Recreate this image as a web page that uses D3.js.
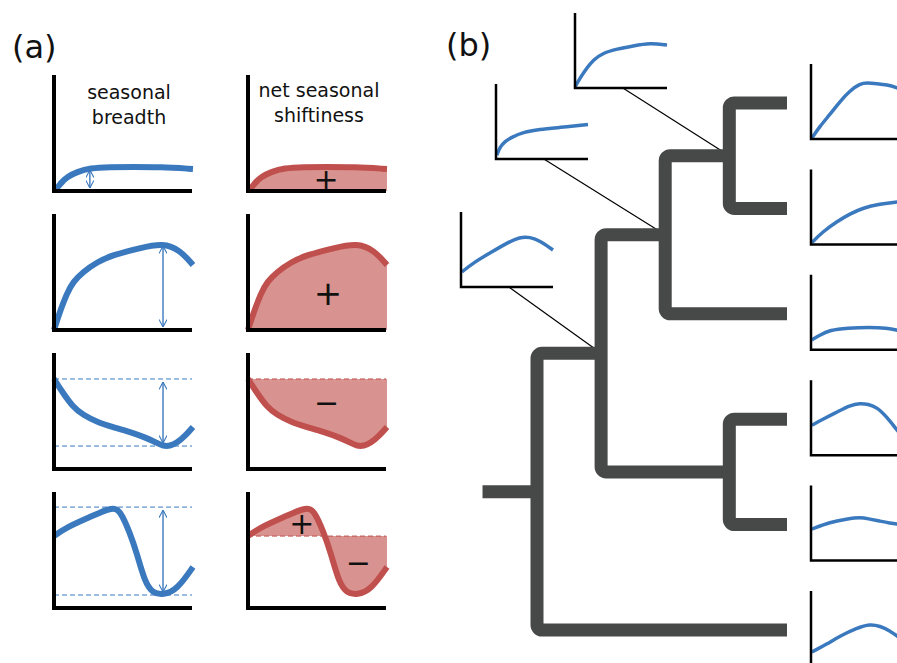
<!DOCTYPE html>
<html>
<head>
<meta charset="utf-8">
<script src="https://cdn.jsdelivr.net/npm/d3@7"></script>
<style>
  body { margin: 0; background: #fff; }
  svg { display: block; font-family: "DejaVu Sans", Verdana, sans-serif; }
</style>
</head>
<body>
<svg id="fig" width="897" height="663"></svg>
<script>
// ---- panel (a): schematic seasonal curves, [x % of season, y % of axis height]
var curveRise  = [[0,0],[2.2,2.6],[5.8,7.8],[9.4,12.1],[16.7,16.4],[26,19.8],[40.6,20.7],[57,20.7],[76.8,20.7],[100.7,19]];
var curveHump  = [[0,0],[2.9,11.2],[9.4,31.9],[13.8,41.4],[21,50],[31.2,58.6],[42.8,64.7],[62.3,70.7],[79,75],[91.3,69],[100.7,56]];
var curveDip   = [[0,77.6],[6.5,65.5],[13.8,53.4],[21,46.6],[31.2,40.5],[42.8,36.2],[55,31.9],[67.4,26.7],[74.6,22.4],[79,19.8],[84,19.8],[89,22.4],[95,28.4],[100.7,36.2]];
var curveCrash = [[0,62],[9.4,69.8],[26,78.4],[42,87],[47.8,84.5],[55,64.7],[60,47.4],[66,21.6],[71.7,12.9],[79,11.2],[89,15.5],[100.7,35.3]];
var breadthArrowAt = [26, 79, 79, 79];
var shiftSigns = [[["+",56.5,10.3]], [["+",58,32]], [["\u2212",57,57.8]], [["+",39,73],["\u2212",80,39.7]]];
var columnTitles = [["seasonal","breadth"], ["net seasonal","shiftiness"]];

// ---- panel (b): phylogeny ((((A,B),C),(D,E)),F) with branch lengths
var nodeIds     = ["root","n1","n2","n3","n4","A","B","C","D","E","F"];
var nodeParents = ["","root","n1","n2","n1","n3","n3","n2","n4","n4","root"];
var branchLen   = [0, 1, 1, 1, 2, 0.9, 0.9, 1.9, 0.9, 0.9, 3.9];
var rootStub = 0.85;

// inset curves on the tree, same units as above
var insetN3 = [[0,1.3],[5.4,13.3],[13,26.7],[19.6,37.3],[30.4,46.7],[45.7,52],[63,56],[81.5,60],[100,57.3]];
var insetN2 = [[1,5.3],[4.3,15.8],[9.7,23.7],[17.2,29],[29,35.5],[47.3,39.5],[68.8,42],[100,46]];
var insetN1 = [[1,20],[13,32],[31.5,45.3],[50,58.7],[64,66.7],[75,66.7],[86,61.3],[100,49.3]];
var insetA  = [[1,1.3],[9.8,17.1],[20.7,32.9],[31.5,50],[42.4,64.5],[53.3,73.7],[60.9,75],[71.7,73.7],[82.6,72.4],[93.5,68.4],[100,65]];
var insetB  = [[1,2.6],[13,17.1],[28,30.3],[42.4,40.8],[56.5,48.7],[75,53.9],[93.5,56.6],[100,57]];
var insetC  = [[1,13.2],[9.8,19.7],[20.7,26.3],[39,29],[64,30.3],[82.6,29],[93.5,26.3],[100,24]];
var insetD  = [[1,40],[13,48],[28,57.3],[42.4,66.7],[53.3,69.3],[62,68],[71.7,64],[82.6,50.7],[93.5,33.3],[100,24]];
var insetE  = [[1,42],[20.7,51.3],[39,55.3],[53.3,57.9],[64,55.3],[75,52.6],[86,50],[93.5,48.7],[100,48]];
var insetF  = [[1,18.7],[17.4,29.3],[31.5,40],[50,50.7],[64,56],[75,53.3],[86,46.7],[93.5,40],[100,34]];

var blue = "#3b79be", red = "#c0504d", redFill = "#d8928f", treeGrey = "#474848";
var smooth = d3.curveBasis;

var svg = d3.select("#fig");

svg.append("defs").append("marker")
    .attr("id", "arrowhead")
    .attr("viewBox", "0 -5 10 10")
    .attr("refX", 9.5).attr("refY", 0)
    .attr("markerUnits", "userSpaceOnUse")
    .attr("markerWidth", 8).attr("markerHeight", 8)
    .attr("orient", "auto-start-reverse")
  .append("path")
    .attr("d", "M0,-5L9.5,0L0,5")
    .attr("fill", "none")
    .attr("stroke", blue)
    .attr("stroke-width", 1.4);

// panel letters
svg.append("text").attr("x", 12).attr("y", 58).attr("font-size", 32).attr("fill", "#111").text("(a)");
svg.append("text").attr("x", 446).attr("y", 56).attr("font-size", 32).attr("fill", "#111").text("(b)");

// ---------------- panel (a)
var rowBase = [191, 330, 469, 608],
    colLeft = [54, 248],
    plotW = 138, plotH = 116;
var rows = [curveRise, curveHump, curveDip, curveCrash];

columnTitles.forEach(function(lines, j) {
  var t = svg.append("text")
      .attr("x", [129, 319][j]).attr("y", [99, 97][j])
      .attr("text-anchor", "middle")
      .attr("font-size", 19)
      .attr("fill", "#111");
  lines.forEach(function(s, k) {
    t.append("tspan").attr("x", [129, 319][j]).attr("dy", k ? 25 : 0).text(s);
  });
});

rows.forEach(function(pts, i) {
  var base = rowBase[i];
  colLeft.forEach(function(cx, j) {
    var x = d3.scaleLinear().domain([0, 100]).range([cx, cx + plotW]);
    var y = d3.scaleLinear().domain([0, 100]).range([base, base - plotH]);
    var line = d3.line().x(function(d) { return x(d[0]); }).y(function(d) { return y(d[1]); }).curve(smooth);
    var g = svg.append("g");

    if (j === 0) {
      // seasonal breadth: max - min
      var ext = d3.extent(pts, function(d) { return d[1]; });
      if (ext[0] > 0) {
        ext.forEach(function(v) {
          g.append("line")
              .attr("x1", x(0)).attr("x2", x(100))
              .attr("y1", y(v)).attr("y2", y(v))
              .attr("stroke", blue).attr("stroke-width", 1)
              .attr("stroke-dasharray", "5,3");
        });
      }
      g.append("path").attr("d", line(pts))
          .attr("fill", "none").attr("stroke", blue).attr("stroke-width", 6);
      g.append("line")
          .attr("x1", x(breadthArrowAt[i])).attr("x2", x(breadthArrowAt[i]))
          .attr("y1", y(ext[1]) + 3).attr("y2", y(ext[0]) - 3)
          .attr("stroke", blue).attr("stroke-width", 1.4)
          .attr("marker-start", "url(#arrowhead)")
          .attr("marker-end", "url(#arrowhead)");
    } else {
      // net shiftiness: area relative to the starting value
      var b = pts[0][1];
      var area = d3.area().x(function(d) { return x(d[0]); })
          .y0(y(b)).y1(function(d) { return y(d[1]); }).curve(smooth);
      g.append("path").attr("d", area(pts)).attr("fill", redFill);
      if (b > 0) {
        g.append("line")
            .attr("x1", x(0)).attr("x2", x(100))
            .attr("y1", y(b)).attr("y2", y(b))
            .attr("stroke", red).attr("stroke-width", 1)
            .attr("stroke-dasharray", "5,3");
      }
      g.append("path").attr("d", line(pts))
          .attr("fill", "none").attr("stroke", red).attr("stroke-width", 6);
      shiftSigns[i].forEach(function(s) {
        var fs = s[0] === "+" ? (i === 1 ? 34 : 30) : 30;
        g.append("text")
            .attr("x", x(s[1])).attr("y", y(s[2]) + fs * 0.36)
            .attr("text-anchor", "middle")
            .attr("font-size", fs)
            .attr("fill", "#111")
            .text(s[0]);
      });
    }

    g.append("path")
        .attr("d", "M" + x(0) + "," + y(100) + "V" + y(0) + "H" + x(100))
        .attr("fill", "none").attr("stroke", "#000").attr("stroke-width", 4)
        .attr("stroke-linejoin", "miter");
  });
});

// ---------------- panel (b)
var table = nodeIds.map(function(id, i) {
  return {id: id, parent: nodeParents[i] || null, len: branchLen[i]};
});
var root = d3.stratify().id(function(d) { return d.id; }).parentId(function(d) { return d.parent; })(table);
root.each(function(n) { n.dist = (n.parent ? n.parent.dist : 0) + n.data.len; });

var tx = d3.scaleLinear().domain([0, 3.9]).range([537, 787]);
var ty = d3.scalePoint().domain(root.leaves().map(function(d) { return d.id; })).range([103, 630]);
root.eachAfter(function(n) {
  n.px = tx(n.dist);
  n.py = n.children ? d3.mean(n.children, function(c) { return c.py; }) : ty(n.id);
});

var insetCurves = {n3: insetN3, n2: insetN2, n1: insetN1,
                   A: insetA, B: insetB, C: insetC, D: insetD, E: insetE, F: insetF};
var internalInsetOrigin = {n3: [575, 88], n2: [496, 159], n1: [461, 287]};
var insetW = 92, insetH = 75;

var insetG = svg.append("g");
root.descendants().forEach(function(n) {
  var pts = insetCurves[n.id];
  if (!pts) return;
  var o = n.children ? internalInsetOrigin[n.id] : [811, n.py + 36];
  var x = d3.scaleLinear().domain([0, 100]).range([o[0], o[0] + insetW]);
  var y = d3.scaleLinear().domain([0, 100]).range([o[1], o[1] - insetH]);
  if (n.children) {
    insetG.append("line")
        .attr("x1", x(52)).attr("y1", y(0))
        .attr("x2", n.px).attr("y2", n.py)
        .attr("stroke", "#000").attr("stroke-width", 1.2);
  }
  insetG.append("path")
      .attr("d", d3.line().x(function(d) { return x(d[0]); }).y(function(d) { return y(d[1]); })
          .curve(smooth)(pts))
      .attr("fill", "none").attr("stroke", blue).attr("stroke-width", 3.5);
  insetG.append("path")
      .attr("d", "M" + x(0) + "," + y(100) + "V" + y(0) + "H" + x(100))
      .attr("fill", "none").attr("stroke", "#000").attr("stroke-width", 2.5);
});

// tree branches with rounded outer corners
var r = 5;
var treeG = svg.append("g")
    .attr("fill", "none").attr("stroke", treeGrey)
    .attr("stroke-width", 13).attr("stroke-linejoin", "round");

root.descendants().filter(function(n) { return n.children; }).forEach(function(n) {
  var a = n.children[0], b = n.children[n.children.length - 1];
  var p = d3.path();
  p.moveTo(a.px, a.py);
  p.lineTo(n.px + r, a.py);
  p.arcTo(n.px, a.py, n.px, a.py + r, r);
  p.lineTo(n.px, b.py - r);
  p.arcTo(n.px, b.py, n.px + r, b.py, r);
  p.lineTo(b.px, b.py);
  treeG.append("path").attr("d", p.toString());
});
treeG.append("line")
    .attr("x1", tx(-rootStub)).attr("x2", root.px)
    .attr("y1", root.py).attr("y2", root.py);
</script>
</body>
</html>
